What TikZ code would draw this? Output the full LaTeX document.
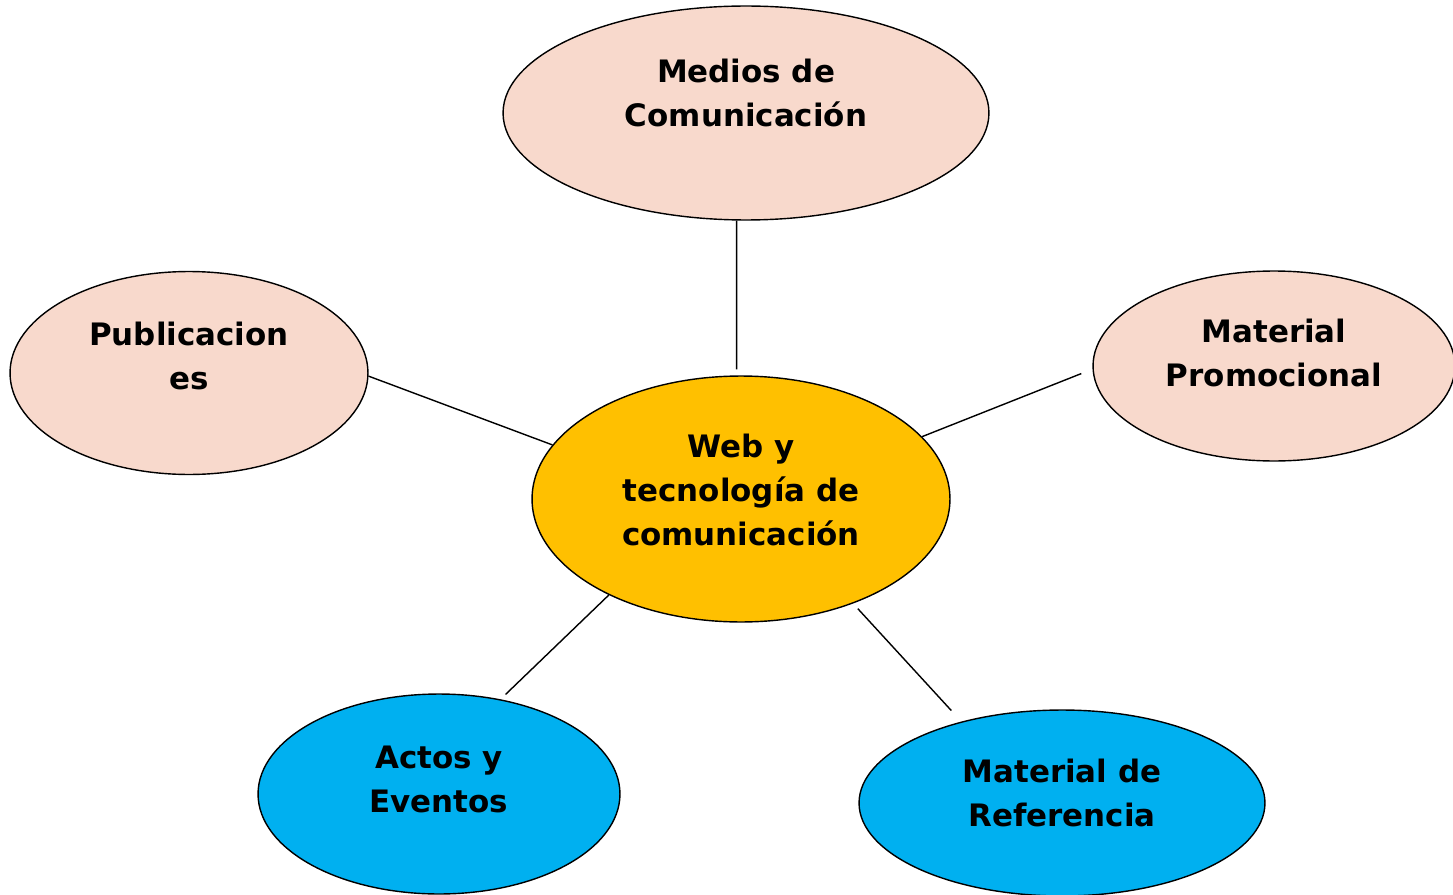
\documentclass[tikz,border=0pt]{standalone}
\usepackage{fontspec}
\setmainfont{DejaVu Sans}
\usetikzlibrary{shapes.geometric}
\definecolor{peach}{HTML}{F8D9CC}
\definecolor{gold}{HTML}{FFC000}
\definecolor{sky}{HTML}{00B0F0}
\tikzset{
  bubble/.style={ellipse, draw, line width=0.8pt, inner sep=0pt},
  words/.style={align=center, font=\bfseries\fontsize{17.6}{25}\selectfont},
  link/.style={line width=0.8pt},
}
\begin{document}
\begin{tikzpicture}[x=0.02cm, y=-0.02cm]
    \useasboundingbox (0,0) rectangle (1453,895);
    \node[bubble, fill=peach, minimum width=9.72cm, minimum height=4.28cm,
          label={[words, yshift=0.4cm]center:Medios de\\Comunicación}] (med) at (746,113) {};
    \node[bubble, fill=peach, minimum width=7.16cm, minimum height=4.06cm,
          label={[words, yshift=0.34cm]center:Publicacion\\es}] (pub) at (189,373) {};
    \node[bubble, fill=peach, minimum width=7.24cm, minimum height=3.8cm,
          label={[words, yshift=0.26cm]center:Material\\Promocional}] (pro) at (1274,366) {};
    \node[bubble, fill=gold, minimum width=8.36cm, minimum height=4.92cm,
          label={[words, yshift=0.18cm]center:Web y\\tecnología de\\comunicación}] (web) at (741,499) {};
    \node[bubble, fill=sky, minimum width=7.24cm, minimum height=4.0cm,
          label={[words, yshift=0.3cm]center:Actos y\\Eventos}] (act) at (439,794) {};
    \node[bubble, fill=sky, minimum width=8.12cm, minimum height=3.72cm,
          label={[words, yshift=0.2cm]center:Material de\\Referencia}] (ref) at (1062,803) {};
    % spokes
    \draw[link, shorten >=0.12cm] (med.-95) -- (web.92);
    \draw[link] (pub.-1) -- (web.164);
    \draw[link, shorten <=0.24cm] (pro.181) -- (web.19);
    \draw[link, shorten <=0.14cm] (act.57) -- (web.-144);
    \draw[link, shorten <=0.14cm, shorten >=0.3cm] (web.-43) -- (ref.141);
\end{tikzpicture}
\end{document}
